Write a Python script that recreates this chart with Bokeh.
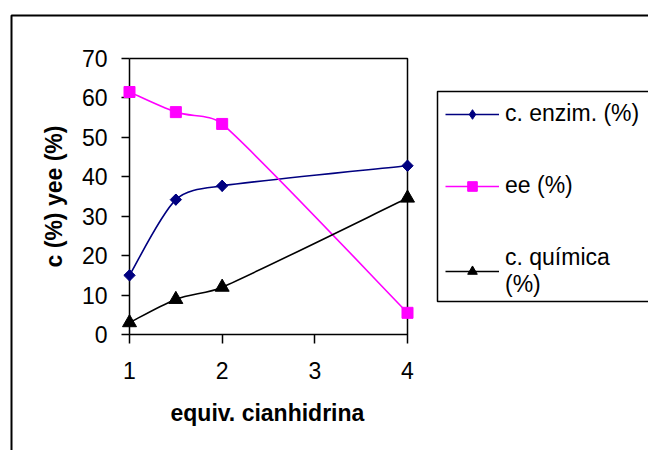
import numpy as np
from bokeh.plotting import figure
from bokeh.models import Range1d, FixedTicker, Legend, LegendItem, ColumnDataSource, Title
from bokeh.embed import file_html
from bokeh.resources import INLINE

# ---- data ----
x_vals = [1, 1.5, 2, 4]
enzim = [15.0, 34.2, 37.7, 42.8]
ee = [61.5, 56.4, 53.4, 5.5]
quimica = [3.0, 8.9, 12.0, 34.6]
x_ticks = [1, 2, 3, 4]
y_ticks = [0, 10, 20, 30, 40, 50, 60, 70]
series_labels = ["c. enzim. (%)", "ee (%)", "c. química\n(%)"]
x_title = "equiv. cianhidrina"
y_title = "c (%) yee (%)"

FONT = "Liberation Sans"
W, H = 648, 450
B_LEFT, B_TOP, B_BOTTOM = 129, 58, 116
PLOT_W = 278                      # width of the plot area (x from 1 to 4), px
FRAME_W, FRAME_H = W - B_LEFT, H - B_TOP - B_BOTTOM
SX = PLOT_W / (x_ticks[-1] - x_ticks[0])
SY = FRAME_H / (y_ticks[-1] - y_ticks[0])
X_END = x_ticks[0] + FRAME_W / SX  # frame extends right so the legend is not clipped


def px_to_x(px):
    return x_ticks[0] + (px - B_LEFT) / SX


def py_to_y(py):
    return y_ticks[0] + (H - B_BOTTOM - py) / SY


def smooth_source(xs, ys):
    """Bezier segments through the data points (smoothed line like a spreadsheet's)."""
    n = len(xs)
    P = [np.array([x * SX, y * SY]) for x, y in zip(xs, ys)]
    d = dict(x0=[], y0=[], x1=[], y1=[], cx0=[], cy0=[], cx1=[], cy1=[])
    for i in range(n - 1):
        a, b = P[i], P[i + 1]
        prv = P[i - 1] if i > 0 else a
        nxt = P[i + 2] if i + 2 < n else b
        seg = np.linalg.norm(b - a)
        v0 = (b - prv) / 6.0
        v1 = (nxt - a) / 6.0
        for v in (v0, v1):
            L = np.linalg.norm(v)
            if L > seg / 3.0:
                v *= (seg / 3.0) / L
        c0 = a + v0
        c1 = b - v1
        d["x0"].append(xs[i]); d["y0"].append(ys[i])
        d["x1"].append(xs[i + 1]); d["y1"].append(ys[i + 1])
        d["cx0"].append(c0[0] / SX); d["cy0"].append(c0[1] / SY)
        d["cx1"].append(c1[0] / SX); d["cy1"].append(c1[1] / SY)
    return ColumnDataSource(d)


p = figure(width=W, height=H, output_backend="svg", toolbar_location=None,
           x_range=Range1d(x_ticks[0], X_END), y_range=Range1d(y_ticks[0], y_ticks[-1]),
           min_border_left=B_LEFT, min_border_right=0,
           min_border_top=B_TOP, min_border_bottom=B_BOTTOM)
p.background_fill_color = "white"
p.border_fill_color = "white"
p.outline_line_color = None
p.xgrid.visible = False
p.ygrid.visible = False

for ax in (p.xaxis[0], p.yaxis[0]):
    ax.axis_line_color = "black"
    ax.axis_line_width = 1.5
    ax.major_tick_line_color = "black"
    ax.major_tick_line_width = 1.5
    ax.major_tick_in = 0
    ax.minor_tick_line_color = None
    ax.major_label_text_font = FONT
    ax.major_label_text_font_size = "23px"
    ax.major_label_text_color = "black"
    ax.axis_label_text_font = FONT
    ax.axis_label_text_font_size = "23px"
    ax.axis_label_text_font_style = "bold"
    ax.axis_label_text_color = "black"

p.xaxis.axis_line_color = None      # bottom edge drawn with the plot-area box
p.xaxis.ticker = FixedTicker(ticks=x_ticks)
p.yaxis.ticker = FixedTicker(ticks=y_ticks)
p.xaxis.major_tick_out = 9
p.yaxis.major_tick_out = 8
p.xaxis.major_label_standoff = 18
p.yaxis.major_label_standoff = 14
p.yaxis.axis_label = y_title
p.yaxis.axis_label_standoff = 12

# x title centred under the plot area (not under the whole frame)
xt = Title(text=x_title, align="left", offset=41, standoff=33,
           text_font=FONT, text_font_size="23px", text_font_style="bold", text_color="black")
p.add_layout(xt, "below")

# plot-area box from the axis limits
x0, x1 = x_ticks[0], x_ticks[-1]
y0, y1 = y_ticks[0], y_ticks[-1]
p.line([x0, x1, x1, x0], [y0, y0, y1, y1], line_color="black", line_width=1.5, level="overlay")

styles = [
    dict(ys=enzim, color="#000080", marker="square", size=8, angle=np.pi / 4, legend_marker="diamond"),
    dict(ys=ee, color="#FF00FF", marker="square", size=11, angle=0.0, legend_marker=None),
    dict(ys=quimica, color="#000000", marker="triangle", size=14, angle=0.0, legend_marker=None),
]

items = []
for st, lab in zip(styles, series_labels):
    src = smooth_source(x_vals, st["ys"])
    ln = p.bezier(x0="x0", y0="y0", x1="x1", y1="y1", cx0="cx0", cy0="cy0", cx1="cx1", cy1="cy1",
                  source=src, line_color=st["color"], line_width=1.6, level="overlay")
    sc = p.scatter(x_vals, st["ys"], marker=st["marker"], size=st["size"], angle=st["angle"],
                   fill_color=st["color"], line_color=st["color"], level="overlay")
    rends = [ln, sc]
    if st["legend_marker"]:
        # legend key for the rotated-square points (legend keys ignore angle);
        # drawn under the rotated squares, which cover it completely
        key = p.scatter(x_vals, st["ys"], marker=st["legend_marker"], size=11,
                        fill_color=st["color"], line_color=st["color"])
        rends = [ln, key]
    items.append(LegendItem(label=lab, renderers=rends))

legend = Legend(items=items, location=(308, 28))
legend.border_line_color = "black"
legend.border_line_alpha = 0.0      # keeps the padding; visible frame drawn below
legend.background_fill_color = None
legend.label_text_font = FONT
legend.label_text_font_size = "23px"
legend.label_text_color = "black"
legend.glyph_width = 54
legend.glyph_height = 24
legend.label_height = 24
legend.label_standoff = 6
legend.padding = 8
legend.spacing = 45
legend.margin = 0
p.add_layout(legend, "center")

# legend frame (its right edge falls outside the window)
p.quad(left=[px_to_x(437)], right=[px_to_x(W + 20)], top=[py_to_y(91)], bottom=[py_to_y(301)],
       fill_color=None, line_color="black", line_width=1.5, level="overlay")

# outer chart-area border: only its left and top edges fall inside the window
bx = px_to_x(11)
by = py_to_y(15)
p.line([bx, bx, px_to_x(W + 50)], [py_to_y(H + 50), by, by],
       line_color="black", line_width=2, level="overlay")

open("out.html", "w").write(file_html(p, INLINE))
